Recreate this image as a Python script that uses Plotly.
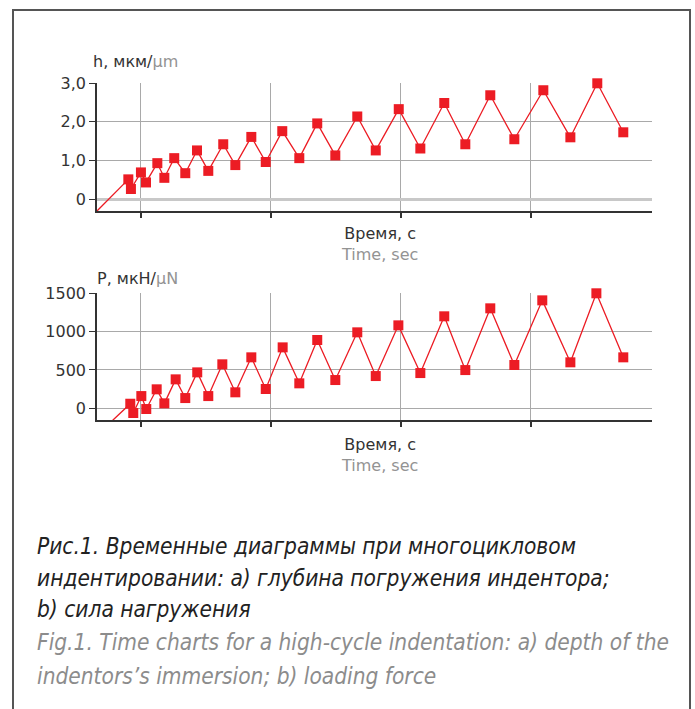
import plotly.graph_objects as go

# ---- data (time in arbitrary units; ticks every 10) ----
t_h = [6.64, 9.05, 9.25, 10.02, 10.41, 11.28, 11.82, 12.58, 13.43, 14.33, 15.2, 16.35, 17.28,
       18.51, 19.62, 20.89, 22.2, 23.58, 24.97, 26.66, 28.08, 29.85, 31.51, 33.35, 34.97,
       36.89, 38.74, 40.97, 43.05, 45.12, 47.12]
h_vals = [-0.31, 0.51, 0.26, 0.69, 0.43, 0.93, 0.55, 1.06, 0.67, 1.26, 0.73, 1.42, 0.88,
          1.61, 0.96, 1.76, 1.06, 1.96, 1.13, 2.14, 1.26, 2.33, 1.31, 2.49, 1.42,
          2.69, 1.55, 2.82, 1.60, 3.00, 1.73]

t_p = [7.85, 9.2, 9.43, 10.05, 10.43, 11.23, 11.82, 12.69, 13.43, 14.35, 15.2, 16.28, 17.28,
       18.51, 19.62, 20.92, 22.2, 23.58, 24.97, 26.66, 28.08, 29.82, 31.51, 33.35, 34.97,
       36.89, 38.74, 40.89, 43.05, 45.05, 47.12]
p_vals = [-156, 60, -61, 160, -9, 248, 65, 378, 134, 469, 160, 574, 209,
          665, 252, 795, 326, 891, 369, 991, 421, 1082, 460, 1200, 499,
          1304, 565, 1408, 600, 1500, 665]

x_ticks = [10, 20, 30, 40]
h_ticks = [0, 1, 2, 3]
h_ticktext = ["0", "1,0", "2,0", "3,0"]
p_ticks = [0, 500, 1000, 1500]
p_ticktext = ["0", "500", "1000", "1500"]

caption_ru = ["Рис.1. Временные диаграммы при многоцикловом",
              "индентировании: a) глубина погружения индентора;",
              "b) сила нагружения"]
caption_en = ["Fig.1. Time charts for a high-cycle indentation: a) depth of the",
              "indentors’s immersion; b) loading force"]

W, H = 695, 709
RED = "#ec1c24"
GRID = "#a9a9a9"
DARK = "#333333"
GRAY = "#939393"
FONT = "DejaVu Sans"


def px(x):
    return x / W


def py(y):
    return 1 - y / H


fig = go.Figure()

# top chart
fig.add_trace(go.Scatter(x=t_h, y=h_vals, mode="lines", line=dict(color=RED, width=1.3),
                         xaxis="x", yaxis="y", hoverinfo="skip", showlegend=False))
fig.add_trace(go.Scatter(x=t_h[1:], y=h_vals[1:], mode="markers", cliponaxis=False,
                         marker=dict(symbol="square", size=10, color=RED, line=dict(width=0)),
                         xaxis="x", yaxis="y", showlegend=False))
# bottom chart
fig.add_trace(go.Scatter(x=t_p, y=p_vals, mode="lines", line=dict(color=RED, width=1.3),
                         xaxis="x2", yaxis="y2", hoverinfo="skip", showlegend=False))
fig.add_trace(go.Scatter(x=t_p[1:], y=p_vals[1:], mode="markers", cliponaxis=False,
                         marker=dict(symbol="square", size=10, color=RED, line=dict(width=0)),
                         xaxis="x2", yaxis="y2", showlegend=False))

xcommon = dict(range=[6.64, 49.29], domain=[px(97), px(651.5)], tickvals=x_ticks,
               showticklabels=False, showgrid=True, gridcolor=GRID, gridwidth=1,
               showline=True, linecolor=DARK, linewidth=1.5, ticks="outside",
               ticklen=5, tickcolor=DARK, tickwidth=1.5, zeroline=False, fixedrange=True,
               automargin=False)
ycommon = dict(showgrid=True, gridcolor=GRID, gridwidth=1, showline=True, linecolor=DARK,
               linewidth=1.5, ticks="outside", ticklen=6, tickcolor=DARK, tickwidth=1.2,
               tickfont=dict(family=FONT, size=16, color=DARK), fixedrange=True,
               automargin=False)

fig.update_layout(
    template="none",
    width=W, height=H, margin=dict(l=0, r=0, t=0, b=0, pad=0), autosize=False,
    paper_bgcolor="white", plot_bgcolor="white", showlegend=False,
    xaxis=dict(**xcommon, anchor="y"),
    xaxis2=dict(**xcommon, anchor="y2"),
    yaxis=dict(**ycommon, range=[-0.31, 3.0], domain=[py(211), py(83.3)], tickvals=h_ticks,
               ticktext=h_ticktext, anchor="x", zeroline=True, zerolinecolor="#c8c8c8",
               zerolinewidth=2.5),
    yaxis2=dict(**ycommon, range=[-156, 1500], domain=[py(420.3), py(293.3)], tickvals=p_ticks,
                ticktext=p_ticktext, anchor="x2", zeroline=False),
)

anns = []


def txt(x, y, text, size=16, anchor="left"):
    anns.append(dict(x=px(x), y=py(y), xref="paper", yref="paper", text=text, showarrow=False,
                     xanchor=anchor, yanchor="middle",
                     font=dict(family=FONT, size=size, color=DARK)))


txt(91, 62, f"h, мкм/<span style='color:{GRAY}'>μm</span>")
txt(95, 278, f"P, мкН/<span style='color:{GRAY}'>μN</span>")
txt(379, 244, f"Время, с<br><span style='color:{GRAY}'>Time, sec</span>", anchor="center")
txt(379, 455, f"Время, с<br><span style='color:{GRAY}'>Time, sec</span>", anchor="center")

CAP_FONT = "DejaVu Sans Condensed, sans-serif"
ys_ru = [546, 578, 609]
ys_en = [642, 676]
for y, line in zip(ys_ru, caption_ru):
    anns.append(dict(x=px(35), y=py(y), xref="paper", yref="paper", text=line, showarrow=False,
                     xanchor="left", yanchor="middle",
                     font=dict(family=CAP_FONT, size=22.5, color="#222222", style="italic")))
for y, line in zip(ys_en, caption_en):
    anns.append(dict(x=px(35), y=py(y), xref="paper", yref="paper", text=line, showarrow=False,
                     xanchor="left", yanchor="middle",
                     font=dict(family=CAP_FONT, size=22.5, color="#8c8c8c", style="italic")))

fig.update_layout(annotations=anns)

# frame
fig.add_shape(type="rect", xref="paper", yref="paper", x0=px(13), x1=px(690), y0=py(712), y1=py(10),
              line=dict(color="#555555", width=2), fillcolor="rgba(0,0,0,0)", layer="below")

fig.write_html("out.html", config={"displayModeBar": False})

# remove default page margins so the figure sits exactly at the window origin
with open("out.html", "r", encoding="utf-8") as f:
    html = f.read()
style = ("<style>html,body{margin:0;padding:0;overflow:hidden}"
         ".plotly-graph-div{position:absolute;top:0;left:0}</style>")
html = html.replace("<head>", "<head>" + style, 1)
with open("out.html", "w", encoding="utf-8") as f:
    f.write(html)
